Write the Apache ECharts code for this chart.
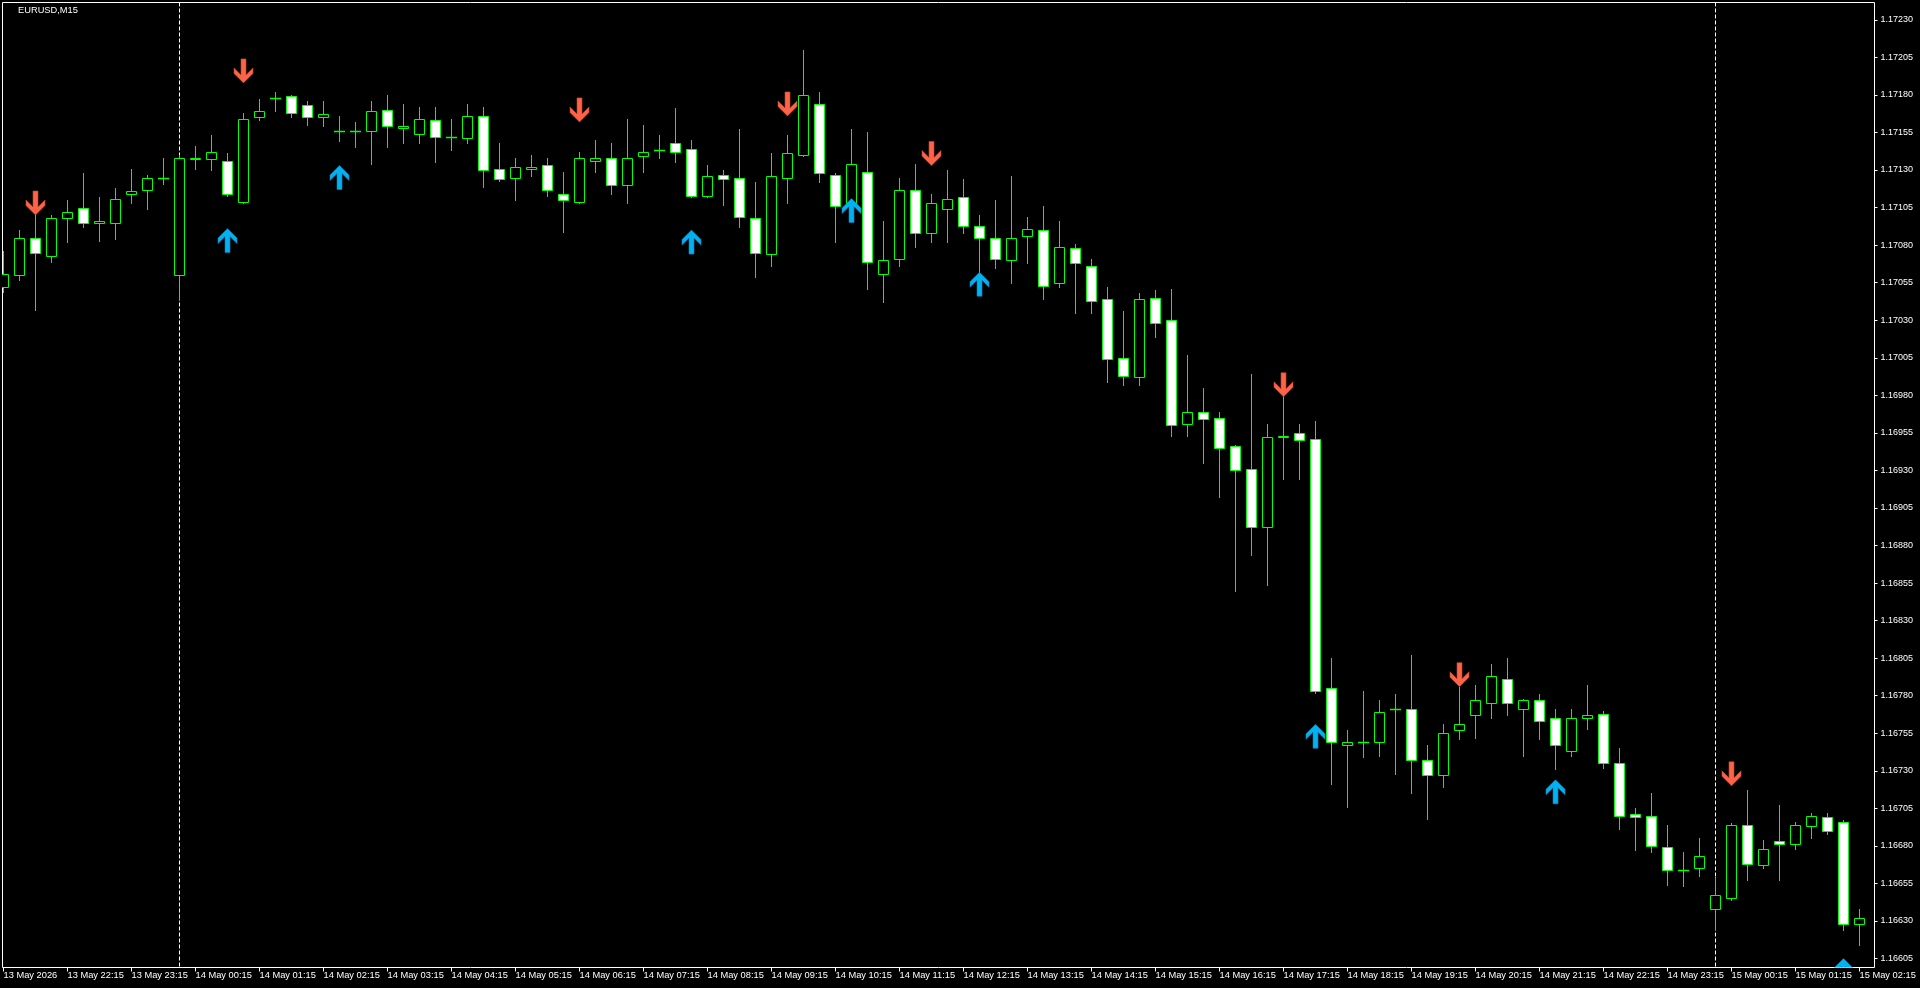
<!DOCTYPE html>
<html>
<head>
<meta charset="utf-8">
<script src="https://cdn.jsdelivr.net/npm/echarts@6.0.0/dist/echarts.min.js"></script>
<style>
html,body{margin:0;padding:0;background:#000;}
#chart{width:1920px;height:988px;}
</style>
</head>
<body>
<div id="chart"></div>
<script>
// ---- data (EURUSD, M15) ----
const opens = [
1.17052,1.17060,1.17085,1.17073,1.17098,1.17105,1.17095,1.17095,1.17114,1.17117,
1.17125,1.17060,1.17137,1.17137,1.17136,1.17109,1.17165,1.17178,1.17179,1.17173,
1.17165,1.17156,1.17156,1.17156,1.17170,1.17158,1.17154,1.17163,1.17152,1.17151,
1.17166,1.17131,1.17125,1.17131,1.17133,1.17114,1.17109,1.17136,1.17138,1.17120,
1.17139,1.17143,1.17148,1.17144,1.17113,1.17127,1.17125,1.17098,1.17074,1.17125,
1.17140,1.17174,1.17127,1.17106,1.17129,1.17061,1.17071,1.17117,1.17088,1.17104,
1.17112,1.17093,1.17085,1.17070,1.17086,1.17090,1.17055,1.17078,1.17066,1.17044,
1.17005,1.16992,1.17045,1.17030,1.16961,1.16969,1.16965,1.16946,1.16931,1.16892,
1.16952,1.16955,1.16951,1.16785,1.16747,1.16749,1.16749,1.16771,1.16771,1.16737,
1.16727,1.16757,1.16767,1.16775,1.16791,1.16771,1.16777,1.16765,1.16743,1.16765,
1.16768,1.16735,1.16701,1.16700,1.16679,1.16664,1.16665,1.16638,1.16645,1.16694,
1.16667,1.16683,1.16681,1.16693,1.16699,1.16696,1.16628];
const highs = [
1.17076,1.17090,1.17100,1.17100,1.17110,1.17128,1.17112,1.17118,1.17131,1.17127,
1.17138,1.17140,1.17146,1.17153,1.17141,1.17168,1.17177,1.17182,1.17180,1.17176,
1.17176,1.17166,1.17162,1.17176,1.17180,1.17174,1.17172,1.17172,1.17164,1.17174,
1.17172,1.17148,1.17138,1.17140,1.17138,1.17129,1.17142,1.17150,1.17148,1.17164,
1.17160,1.17153,1.17171,1.17150,1.17133,1.17130,1.17157,1.17122,1.17141,1.17153,
1.17210,1.17182,1.17128,1.17157,1.17155,1.17096,1.17125,1.17134,1.17114,1.17130,
1.17124,1.17100,1.17110,1.17126,1.17099,1.17106,1.17096,1.17081,1.17071,1.17052,
1.17036,1.17048,1.17050,1.17051,1.17007,1.16985,1.16969,1.16947,1.16994,1.16961,
1.16995,1.16961,1.16963,1.16805,1.16757,1.16783,1.16777,1.16781,1.16807,1.16747,
1.16761,1.16786,1.16787,1.16801,1.16805,1.16778,1.16781,1.16771,1.16771,1.16787,
1.16770,1.16745,1.16705,1.16715,1.16694,1.16676,1.16685,1.16659,1.16695,1.16717,
1.16684,1.16707,1.16696,1.16702,1.16702,1.16697,1.16638];
const lows = [
1.17049,1.17057,1.17037,1.17069,1.17082,1.17092,1.17083,1.17084,1.17108,1.17104,
1.17121,1.17044,1.17131,1.17130,1.17113,1.17108,1.17163,1.17169,1.17165,1.17160,
1.17159,1.17149,1.17145,1.17134,1.17145,1.17148,1.17148,1.17135,1.17143,1.17148,
1.17119,1.17123,1.17110,1.17126,1.17113,1.17089,1.17108,1.17129,1.17114,1.17108,
1.17129,1.17138,1.17135,1.17112,1.17112,1.17107,1.17092,1.17059,1.17066,1.17108,
1.17139,1.17122,1.17082,1.17104,1.17051,1.17042,1.17066,1.17079,1.17082,1.17082,
1.17088,1.17062,1.17065,1.17055,1.17068,1.17044,1.17052,1.17035,1.17035,1.16989,
1.16987,1.16987,1.17019,1.16953,1.16953,1.16935,1.16912,1.16850,1.16874,1.16854,
1.16924,1.16924,1.16782,1.16721,1.16706,1.16739,1.16740,1.16728,1.16715,1.16698,
1.16719,1.16751,1.16752,1.16765,1.16767,1.16740,1.16751,1.16731,1.16740,1.16758,
1.16732,1.16691,1.16677,1.16676,1.16654,1.16653,1.16660,1.16625,1.16644,1.16657,
1.16665,1.16657,1.16678,1.16685,1.16688,1.16624,1.16614];
const closes = [
1.17061,1.17085,1.17075,1.17098,1.17102,1.17095,1.17096,1.17111,1.17116,1.17125,
1.17125,1.17138,1.17138,1.17142,1.17114,1.17164,1.17169,1.17178,1.17168,1.17165,
1.17167,1.17156,1.17156,1.17169,1.17159,1.17159,1.17164,1.17152,1.17152,1.17166,
1.17130,1.17124,1.17132,1.17132,1.17117,1.17110,1.17138,1.17138,1.17120,1.17138,
1.17142,1.17143,1.17142,1.17113,1.17126,1.17124,1.17099,1.17075,1.17126,1.17141,
1.17180,1.17128,1.17106,1.17134,1.17069,1.17070,1.17117,1.17088,1.17108,1.17111,
1.17093,1.17085,1.17071,1.17085,1.17091,1.17053,1.17079,1.17068,1.17043,1.17004,
1.16993,1.17044,1.17028,1.16960,1.16969,1.16964,1.16945,1.16930,1.16892,1.16952,
1.16953,1.16950,1.16783,1.16749,1.16749,1.16749,1.16769,1.16771,1.16737,1.16727,
1.16755,1.16761,1.16777,1.16793,1.16775,1.16777,1.16763,1.16747,1.16765,1.16767,
1.16735,1.16700,1.16699,1.16680,1.16664,1.16664,1.16673,1.16647,1.16694,1.16668,
1.16678,1.16681,1.16694,1.16700,1.16690,1.16628,1.16632];

const timeLabels = [
"13 May 2026","13 May 22:15","13 May 23:15",
"14 May 00:15","14 May 01:15","14 May 02:15","14 May 03:15","14 May 04:15","14 May 05:15",
"14 May 06:15","14 May 07:15","14 May 08:15","14 May 09:15","14 May 10:15","14 May 11:15",
"14 May 12:15","14 May 13:15","14 May 14:15","14 May 15:15","14 May 16:15","14 May 17:15",
"14 May 18:15","14 May 19:15","14 May 20:15","14 May 21:15","14 May 22:15","14 May 23:15",
"15 May 00:15","15 May 01:15","15 May 02:15"];
const barsPerLabel = 4;

const priceTicks = [
1.16605,1.16630,1.16655,1.16680,1.16705,1.16730,1.16755,1.16780,1.16805,1.16830,
1.16855,1.16880,1.16905,1.16930,1.16955,1.16980,1.17005,1.17030,1.17055,1.17080,
1.17105,1.17130,1.17155,1.17180,1.17205,1.17230];
const priceMin = 1.1659904;
const priceMax = 1.1724152;

const daySeparators = [11, 107];

const downArrowBars = [2, 15, 36, 49, 58, 80, 91, 108];
const downArrowPrices = [1.17100, 1.17188, 1.17162, 1.17166, 1.17133, 1.16979, 1.16786, 1.16720];
const upArrowBars = [14, 21, 43, 53, 61, 82, 97, 115];
const upArrowPrices = [1.17091, 1.17133, 1.17090, 1.17111, 1.17062, 1.16761, 1.16724, 1.16605];

// ---- build ----
const candleData = opens.map((o, i) => [i, o, highs[i], lows[i], closes[i]]);
const labelBars = timeLabels.map((_, k) => k * barsPerLabel);
const arrowData = downArrowBars.map((b, k) => [b, downArrowPrices[k], -1])
  .concat(upArrowBars.map((b, k) => [b, upArrowPrices[k], 1]));

const GREEN = '#00ff00';
const FONT = '"Liberation Sans", Arial, sans-serif';

function renderCandle(params, api) {
  const i = api.value(0), o = api.value(1), h = api.value(2), l = api.value(3), c = api.value(4);
  const pO = api.coord([i, o]), pH = api.coord([i, h]), pL = api.coord([i, l]), pC = api.coord([i, c]);
  const cx = Math.floor(pO[0]) + 0.5;
  const yH = Math.round(pH[1]), yL = Math.round(pL[1]);
  const yO = Math.round(pO[1]), yC = Math.round(pC[1]);
  const top = Math.min(yO, yC), bot = Math.max(yO, yC);
  const children = [{
    type: 'line',
    shape: { x1: cx, y1: yH, x2: cx, y2: yL + 1 },
    style: { stroke: GREEN, lineWidth: 1 }
  }];
  if (bot - top < 1) {
    children.push({
      type: 'line',
      shape: { x1: cx - 5.5, y1: top + 0.5, x2: cx + 5.5, y2: top + 0.5 },
      style: { stroke: GREEN, lineWidth: 1.6 }
    });
  } else {
    children.push({
      type: 'rect',
      shape: { x: cx - 5, y: top + 0.5, width: 10, height: bot - top },
      style: { fill: c < o ? '#ffffff' : '#000000', stroke: GREEN, lineWidth: 1 }
    });
  }
  return { type: 'group', children };
}

function renderArrow(params, api) {
  const b = api.value(0), p = api.value(1), dir = api.value(2);
  const pt = api.coord([b, p]);
  const cx = Math.floor(pt[0]) + 0.5;
  const ty = pt[1];
  const s = dir > 0 ? 1 : -1;
  const rel = [[0,0],[9.5,9.5],[9.5,15],[2.5,8],[2.5,24],[-2.5,24],[-2.5,8],[-9.5,15],[-9.5,9.5]];
  const pts = rel.map(q => [cx + q[0], ty + s * q[1]]);
  return {
    type: 'polygon',
    shape: { points: pts },
    style: dir > 0
      ? { fill: '#00b2f2', stroke: '#0a7fb8', lineWidth: 0.6 }
      : { fill: '#ff6347', stroke: '#c2452e', lineWidth: 0.6 }
  };
}

function renderSeparator(params, api) {
  const b = api.value(0);
  const p1 = api.coord([b, priceMax]);
  const p2 = api.coord([b, priceMin]);
  const x = Math.floor(p1[0]) + 0.5;
  return {
    type: 'line',
    shape: { x1: x, y1: p1[1], x2: x, y2: p2[1] },
    style: { stroke: '#ffffff', lineWidth: 1, lineDash: [4, 2] }
  };
}

const chart = echarts.init(document.getElementById('chart'), null, { renderer: 'canvas' });
chart.setOption({
  backgroundColor: '#000000',
  animation: false,
  title: {
    text: 'EURUSD,M15',
    left: 18, top: 6, padding: 0,
    textStyle: { color: '#ffffff', fontSize: 9.3, fontWeight: 'normal', fontFamily: FONT }
  },
  grid: {
    left: 2.5, right: 45.5, top: 2.5, bottom: 20.5,
    show: true, borderColor: '#ffffff', borderWidth: 1, backgroundColor: '#000000'
  },
  xAxis: {
    type: 'value',
    min: -0.0625, max: 116.9375,
    splitLine: { show: false },
    axisLine: { show: false, onZero: false },
    axisTick: { show: true, customValues: labelBars, length: 4, lineStyle: { color: '#ffffff' } },
    axisLabel: {
      show: true, customValues: labelBars,
      formatter: v => timeLabels[Math.round(v / barsPerLabel)],
      color: '#ffffff', fontSize: 9.3, fontFamily: FONT, align: 'left', margin: 3
    }
  },
  yAxis: {
    type: 'value', position: 'right',
    min: priceMin, max: priceMax,
    splitLine: { show: false },
    axisLine: { show: false, onZero: false },
    axisTick: { show: true, customValues: priceTicks, length: 3, lineStyle: { color: '#ffffff' } },
    axisLabel: {
      show: true, customValues: priceTicks,
      formatter: v => v.toFixed(5),
      color: '#ffffff', fontSize: 9, fontFamily: FONT, margin: 6
    }
  },
  series: [
    {
      type: 'custom', name: 'separators', z: 1, clip: true,
      renderItem: renderSeparator,
      encode: { x: 0 },
      data: daySeparators.map(b => [b])
    },
    {
      type: 'custom', name: 'EURUSD', z: 2, clip: true,
      renderItem: renderCandle,
      encode: { x: 0, y: [1, 2, 3, 4] },
      data: candleData
    },
    {
      type: 'custom', name: 'signals', z: 3, clip: true,
      renderItem: renderArrow,
      encode: { x: 0, y: 1 },
      data: arrowData
    }
  ]
});
</script>
</body>
</html>
